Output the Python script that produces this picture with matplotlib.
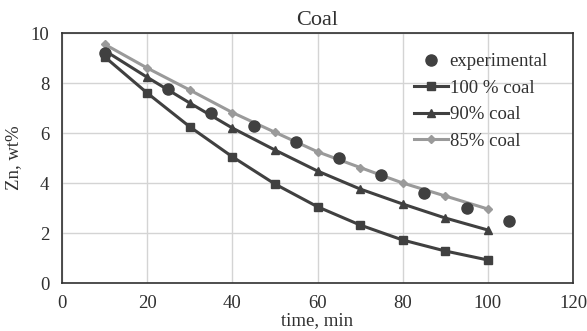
import matplotlib
matplotlib.use("Agg")
import matplotlib.pyplot as plt

plt.rcParams['font.family'] = ['Liberation Serif', 'DejaVu Serif']

exp_x = [10, 25, 35, 45, 55, 65, 75, 85, 95, 105]
exp_y = [9.2, 7.75, 6.8, 6.28, 5.65, 5.0, 4.32, 3.62, 3.0, 2.48]

t = [10, 20, 30, 40, 50, 60, 70, 80, 90, 100]
coal100 = [9.05, 7.6, 6.25, 5.05, 3.96, 3.05, 2.32, 1.72, 1.28, 0.92]
coal90 = [9.3, 8.23, 7.2, 6.2, 5.32, 4.48, 3.76, 3.16, 2.6, 2.12]
coal85 = [9.55, 8.6, 7.72, 6.82, 6.03, 5.25, 4.62, 4.0, 3.48, 2.96]

fig = plt.figure(figsize=(5.87, 3.31), dpi=100)
ax = fig.add_axes([62/587, 1-283/331, (573-62)/587, (283-33)/331])

dark = '#404040'
ax.plot(exp_x, exp_y, 'o', color=dark, markersize=8, label='experimental', zorder=5)
ax.plot(t, coal100, '-s', color=dark, lw=2.2, markersize=6, label='100 % coal')
ax.plot(t, coal90, '-^', color=dark, lw=2.2, markersize=6, label='90% coal')
ax.plot(t, coal85, '-D', color='#9a9a9a', lw=2.2, markersize=4, label='85% coal')

ax.set_xlim(0, 120)
ax.set_ylim(0, 10)
ax.set_xticks(range(0, 121, 20))
ax.set_yticks(range(0, 11, 2))
ax.grid(True, color='#d4d4d4', lw=1)
ax.set_axisbelow(True)
for s in ax.spines.values():
    s.set_color('#303030')
    s.set_linewidth(1.2)
ax.tick_params(length=0, labelsize=13.5, colors='#303030', pad=9)
ax.set_title('Coal', fontsize=16, color='#303030', pad=6)
ax.set_xlabel('time, min', fontsize=13.5, color='#303030', labelpad=0)
ax.set_ylabel('Zn, wt%', fontsize=13.5, color='#303030', labelpad=6)
ax.legend(loc='upper right', bbox_to_anchor=(0.951, 0.92), frameon=False,
          borderpad=0, borderaxespad=0,
          fontsize=13.5, handlelength=1.8, handletextpad=0.1, labelspacing=0.5,
          labelcolor='#303030')

fig.savefig('out.png', dpi=100)
